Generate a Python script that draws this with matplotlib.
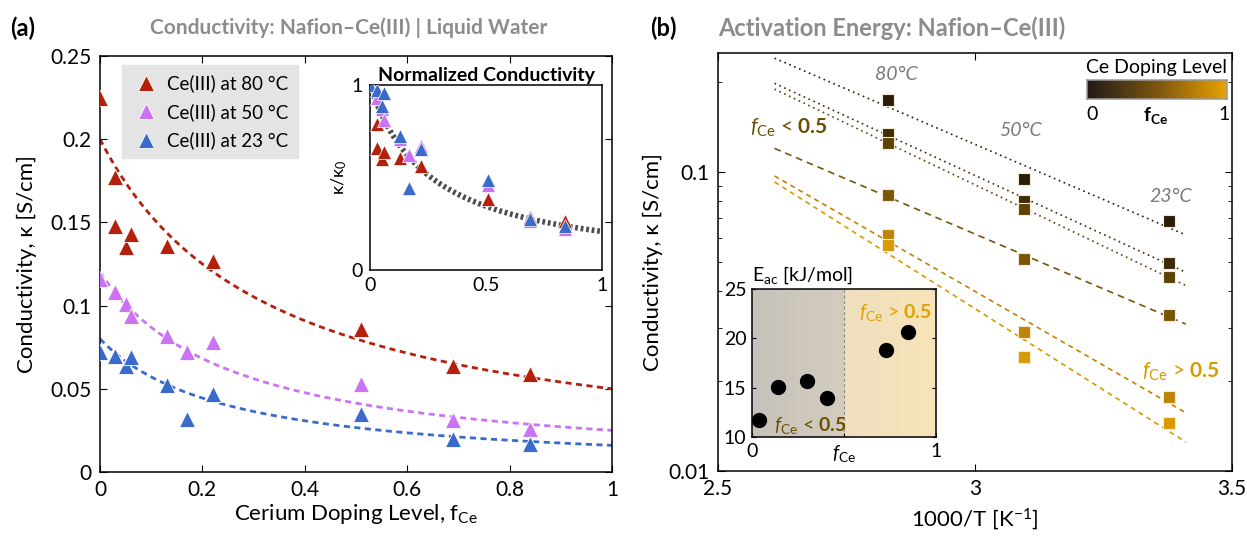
import numpy as np
import matplotlib
matplotlib.use('Agg')
import matplotlib.pyplot as plt
from matplotlib.colors import LinearSegmentedColormap

plt.rcParams['font.family'] = ['Lato', 'DejaVu Sans']
plt.rcParams['mathtext.fontset'] = 'custom'
plt.rcParams['mathtext.rm'] = 'Lato'
plt.rcParams['mathtext.it'] = 'Lato:italic'
plt.rcParams['mathtext.bf'] = 'Lato:bold'
plt.rcParams['xtick.direction'] = 'in'
plt.rcParams['ytick.direction'] = 'in'
plt.rcParams['axes.linewidth'] = 1.1

# ---- panel (a): conductivity vs doping level ----
f_80 = [0, 0.03, 0.03, 0.05, 0.06, 0.13, 0.22, 0.51, 0.69, 0.84]
k_80 = [0.225, 0.177, 0.148, 0.135, 0.143, 0.136, 0.127, 0.086, 0.064, 0.059]
f_50 = [0, 0.03, 0.05, 0.06, 0.13, 0.17, 0.22, 0.51, 0.69, 0.84]
k_50 = [0.116, 0.108, 0.101, 0.094, 0.082, 0.072, 0.078, 0.053, 0.031, 0.026]
f_23 = [0, 0.03, 0.05, 0.06, 0.13, 0.17, 0.22, 0.51, 0.69, 0.84]
k_23 = [0.072, 0.070, 0.064, 0.069, 0.052, 0.032, 0.047, 0.035, 0.020, 0.017]
temp_labels = ['Ce(III) at 80 °C', 'Ce(III) at 50 °C', 'Ce(III) at 23 °C']
temp_colors = ['#b3200c', '#cc73f5', '#3a6bcc']

# fitted decay k0 / (1 + b f) as drawn in the figure
fit_k0 = [0.20, 0.12, 0.08]
fit_b = [3.0, 3.8, 4.0]
norm_fit_b = 3.8

# ---- panel (b): Arrhenius plot ----
temps_c = [80, 50, 23]
k_s1 = [0.174, 0.0948, 0.0686]
k_s2 = [0.134, 0.080, 0.0497]
k_s3 = [0.125, 0.0752, 0.0446]
k_s4 = [0.0838, 0.0512, 0.0333]
k_s5 = [0.0615, 0.0292, 0.0177]
k_s6 = [0.057, 0.0241, 0.0145]
series_colors = ['#2a1d08', '#3d2a06', '#5e4204', '#7a5508', '#bf8406', '#d99a00']
series_styles = [(0, (1, 2.2)), (0, (1, 2.2)), (0, (1, 2.2)),
                 (0, (4, 3)), (0, (3, 2.5)), (0, (3, 2.5))]

# inset (b): activation energy
f_ea = [0.04, 0.14, 0.30, 0.41, 0.73, 0.85]
ea = [11.7, 15.1, 15.7, 14.0, 18.8, 20.6]

W, H = 1247, 539


def box(x0, y0, x1, y1):
    # pixel box (top-left origin) -> figure rect
    return [x0 / W, 1 - y1 / H, (x1 - x0) / W, (y1 - y0) / H]


def px(x, y):
    return x / W, 1 - y / H


fig = plt.figure(figsize=(W / 100, H / 100), dpi=100)
grey_title = '#8c8c8c'

# ================= panel (a) =================
ax = fig.add_axes(box(100, 56, 612, 472))
f_line = np.linspace(0, 1, 200)
for k0, b, c in zip(fit_k0, fit_b, temp_colors):
    ax.plot(f_line, k0 / (1 + b * f_line), color=c, lw=2, ls=(0, (2.2, 1.6)), zorder=2)
for f, k, c, lab in zip([f_80, f_50, f_23], [k_80, k_50, k_23], temp_colors, temp_labels):
    ax.plot(f, k, '^', color=c, ms=12, mec='white', mew=0.6, ls='none', label=lab, zorder=3)
ax.set_xlim(0, 1)
ax.set_ylim(0, 0.25)
ax.set_xticks([0, 0.2, 0.4, 0.6, 0.8, 1])
ax.set_xticklabels(['0', '0.2', '0.4', '0.6', '0.8', '1'])
ax.set_yticks([0, 0.05, 0.1, 0.15, 0.2, 0.25])
ax.set_yticklabels(['0', '0.05', '0.1', '0.15', '0.2', '0.25'])
ax.tick_params(labelsize=15, length=5, top=True, right=True, pad=6)
ax.set_xlabel('Cerium Doping Level, f$_{\\mathrm{Ce}}$', fontsize=16, labelpad=1)
ax.set_ylabel('Conductivity, κ [S/cm]', fontsize=16, labelpad=10)
leg = ax.legend(loc='upper left', bbox_to_anchor=(0.025, 1.0), fontsize=13.5, frameon=True,
                facecolor='#e4e4e4', edgecolor='#e4e4e4', framealpha=1, fancybox=False,
                handletextpad=0.4, borderpad=0.5, labelspacing=0.55, handlelength=1.5)

# inset: normalised conductivity
axi = fig.add_axes(box(370, 85, 602, 270))
axi.plot(f_line, 1 / (1 + norm_fit_b * f_line), color='#4d4d4d', lw=4,
         ls=(0, (0.5, 0.5)), zorder=2)
for f, k, c in zip([f_80, f_50, f_23], [k_80, k_50, k_23], temp_colors):
    kn = np.array(k) / k[0]
    axi.plot(f, kn, '^', color=c, ms=10, mec='white', mew=0.5, ls='none', zorder=3)
axi.set_xlim(0, 1)
axi.set_ylim(0, 1)
axi.set_xticks([0, 0.5, 1])
axi.set_xticklabels(['0', '0.5', '1'])
axi.set_yticks([0, 1])
axi.set_yticklabels(['0', '1'])
axi.tick_params(labelsize=14, length=0, pad=5)
axi.set_ylabel('κ/κ$_0$', fontsize=13, labelpad=2)
axi.set_title('Normalized Conductivity', fontsize=14, fontweight='bold', pad=3)

fig.text(*px(10, 28), '(a)', fontsize=17, fontweight='bold', va='center')
fig.text(*px(150, 28), 'Conductivity: Nafion–Ce(III) | Liquid Water', fontsize=15,
         fontweight='bold', color=grey_title, va='center')

# ================= panel (b) =================
bx = fig.add_axes(box(718, 53, 1232, 471))
inv_t = 1000 / (np.array(temps_c) + 273.15)
t_fit = np.linspace(2.61, 3.41, 50)
for k, c, ls in zip([k_s1, k_s2, k_s3, k_s4, k_s5, k_s6], series_colors, series_styles):
    p = np.polyfit(inv_t, np.log10(k), 1)
    bx.plot(t_fit, 10 ** np.polyval(p, t_fit), color=c, lw=1.2, ls=ls, zorder=2)
    bx.plot(inv_t, k, 's', color=c, ms=8, mec='#f3ead8', mew=0.8, ls='none', zorder=3)
bx.set_yscale('log')
bx.set_xlim(2.5, 3.5)
bx.set_ylim(0.01, 0.25)
bx.set_xticks([2.5, 3, 3.5])
bx.set_xticklabels(['2.5', '3', '3.5'])
bx.set_yticks([0.01, 0.1])
bx.set_yticklabels(['0.01', '0.1'])
bx.tick_params(labelsize=15, length=5, top=True, right=True, pad=6)
bx.tick_params(which='minor', length=3, top=True, right=True)
bx.set_xlabel('1000/T [K$^{-1}$]', fontsize=16, labelpad=5)
bx.set_ylabel('Conductivity, κ [S/cm]', fontsize=16, labelpad=4)

for t, (x, y) in zip(['80°C', '50°C', '23°C'], [(896, 75), (1020, 131), (1171, 196)]):
    fig.text(*px(x, y), t, fontsize=14, style='italic', color='#7a7a7a', ha='center', va='center')
fig.text(*px(750, 128), '$\\it{f}_{\\mathrm{Ce}}$ < $\\mathbf{0.5}$', fontsize=15,
         color='#6b4e00', va='center')
fig.text(*px(1142, 372), '$\\it{f}_{\\mathrm{Ce}}$ > $\\mathbf{0.5}$', fontsize=15,
         color='#d99a00', va='center')

# colour scale legend
doping_cmap = LinearSegmentedColormap.from_list('doping', ['#1f1a17', '#7d5510', '#e8a300'])
fig.text(*px(1157, 68), 'Ce Doping Level', fontsize=14, ha='center', va='center')
cb = fig.add_axes(box(1087, 80, 1227, 99))
cb.imshow(np.linspace(0, 1, 256)[None, :], aspect='auto', cmap=doping_cmap)
cb.set_xticks([])
cb.set_yticks([])
for s in cb.spines.values():
    s.set_color('#9a9a9a')
fig.text(*px(1092, 114), '0', fontsize=14, ha='center', va='center')
fig.text(*px(1224, 114), '1', fontsize=14, ha='center', va='center')
fig.text(*px(1156, 115), '$\\mathbf{f}_{\\mathbf{Ce}}$', fontsize=14, ha='center', va='center')

# inset: activation energy
ei = fig.add_axes(box(752, 289, 936, 437))
grad_l = LinearSegmentedColormap.from_list('gl', ['#c6c2bb', '#d3ccbf'])
grad_r = LinearSegmentedColormap.from_list('gr', ['#efdfc0', '#f8e4b9'])
ramp = np.linspace(0, 1, 64)[None, :]
ei.imshow(ramp, extent=[0, 0.5, 10, 25], aspect='auto', cmap=grad_l, zorder=0)
ei.imshow(ramp, extent=[0.5, 1, 10, 25], aspect='auto', cmap=grad_r, zorder=0)
ei.axvline(0.5, color='#8a8a8a', lw=0.8, ls=(0, (3, 2)), zorder=1)
ei.plot(f_ea, ea, 'o', color='black', ms=10, ls='none', zorder=3)
ei.set_xlim(0, 1)
ei.set_ylim(10, 25)
ei.set_xticks([0, 0.5, 1])
ei.set_xticklabels(['0', '$\\it{f}_{\\mathrm{Ce}}$', '1'])
ei.set_yticks([10, 15, 20, 25])
ei.tick_params(labelsize=14, length=3, right=True, pad=4)
ei.text(0.58, 22.6, '$\\it{f}_{\\mathrm{Ce}}$ > $\\mathbf{0.5}$', fontsize=14, color='#e0a000',
        va='center')
ei.text(0.12, 11.2, '$\\it{f}_{\\mathrm{Ce}}$ < $\\mathbf{0.5}$', fontsize=14, color='#6b5000',
        va='center')
fig.text(*px(752, 275), 'E$_{\\mathrm{ac}}$ [kJ/mol]', fontsize=14, va='center')

fig.text(*px(650, 28), '(b)', fontsize=17, fontweight='bold', va='center')
fig.text(*px(718, 28), 'Activation Energy: Nafion–Ce(III)', fontsize=17,
         fontweight='bold', color=grey_title, va='center')

fig.savefig('out.png', dpi=100)
